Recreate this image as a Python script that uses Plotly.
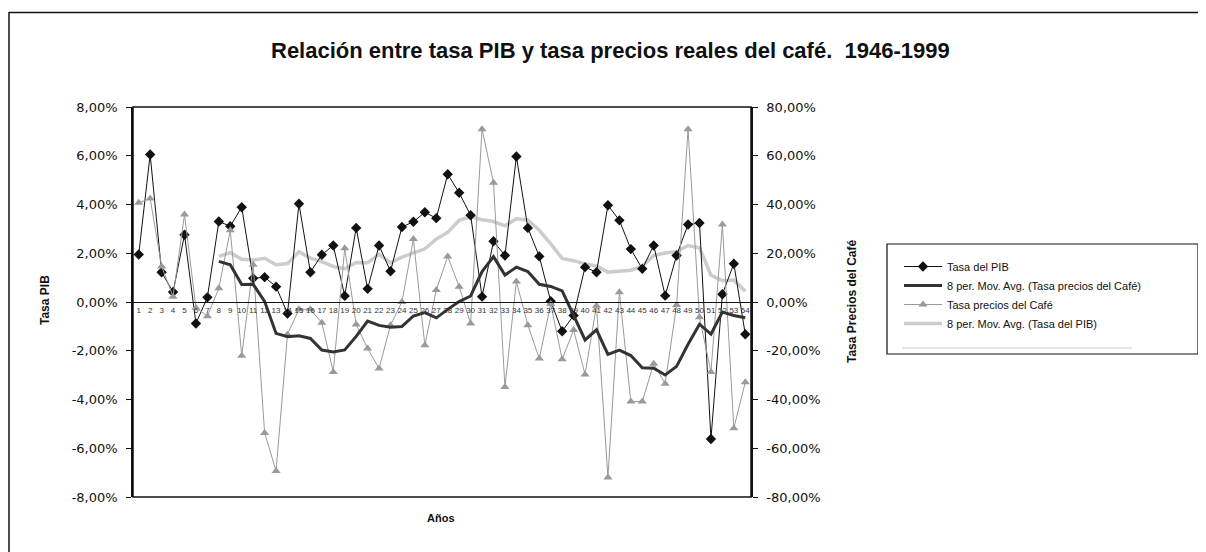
import plotly.graph_objects as go
import pandas as pd

# ---- data ----
years = list(range(1, 55))
year_labels = [str(v) for v in years]

tasa_pib = [1.95, 6.05, 1.22, 0.41, 2.76, -0.88, 0.19, 3.30, 3.11, 3.89,
            0.97, 1.02, 0.63, -0.47, 4.03, 1.22, 1.94, 2.32, 0.25, 3.04,
            0.54, 2.32, 1.26, 3.08, 3.29, 3.68, 3.44, 5.24, 4.48, 3.56,
            0.22, 2.49, 1.91, 5.97, 3.04, 1.87, 0.03, -1.20, -0.55, 1.43,
            1.22, 3.97, 3.35, 2.17, 1.36, 2.32, 0.26, 1.91, 3.18, 3.24,
            -5.62, 0.32, 1.57, -1.32]

tasa_cafe = [40.7, 42.5, 14.6, 2.2, 35.9, -2.4, -5.8, 5.6, 29.4, -22.1,
             15.3, -53.7, -69.3, -13.3, -3.0, -3.0, -8.5, -28.7, 22.1, -9.2,
             -19.1, -27.3, -9.5, 0.0, 25.8, -17.7, 4.9, 18.7, 6.3, -8.8,
             70.9, 48.9, -34.9, 8.4, -9.5, -23.2, -0.8, -23.5, -11.5, -29.7,
             -1.5, -72.0, 4.0, -40.8, -40.8, -25.3, -33.5, -1.2, 70.9, -6.3,
             -28.7, 31.8, -51.8, -32.9]

left_tickvals = [-8, -6, -4, -2, 0, 2, 4, 6, 8]
left_ticktext = ["-8,00%", "-6,00%", "-4,00%", "-2,00%", "0,00%", "2,00%", "4,00%", "6,00%", "8,00%"]
right_tickvals = [-80, -60, -40, -20, 0, 20, 40, 60, 80]
right_ticktext = ["-80,00%", "-60,00%", "-40,00%", "-20,00%", "0,00%", "20,00%", "40,00%", "60,00%", "80,00%"]

# 8-period moving averages (trendlines of the series)
ma_pib = pd.Series(tasa_pib).rolling(8).mean().tolist()
ma_cafe = pd.Series(tasa_cafe).rolling(8).mean().tolist()

# ---- geometry (page pixels; the page body has an 8px margin) ----
OFF = 8
W, H = 1206 - OFF, 552 - OFF
L, R, T, B = 133, 751, 107, 497   # plot area in page pixels
def px(x):
    return (x - L) / (R - L)
def py(y):
    return (B - y) / (B - T)

FONT = "Liberation Sans, Arial, sans-serif"

fig = go.Figure()

fig.add_trace(go.Scatter(
    x=years, y=ma_pib, name="8 per. Mov. Avg. (Tasa del PIB)", mode="lines",
    line=dict(color="#cccccc", width=3.5), yaxis="y", legendrank=4))
fig.add_trace(go.Scatter(
    x=years, y=tasa_pib, name="Tasa del PIB", mode="lines+markers",
    line=dict(color="#111111", width=1),
    marker=dict(symbol="diamond", size=8, color="#111111"),
    yaxis="y", legendrank=1))
fig.add_trace(go.Scatter(
    x=years, y=tasa_cafe, name="Tasa precios del Café", mode="lines+markers",
    line=dict(color="#9a9a9a", width=1),
    marker=dict(symbol="triangle-up", size=8, color="#9a9a9a"),
    yaxis="y2", legendrank=3))
fig.add_trace(go.Scatter(
    x=years, y=ma_cafe, name="8 per. Mov. Avg. (Tasa precios del Café)", mode="lines",
    line=dict(color="#333333", width=3), yaxis="y2", legendrank=2))

axis_common = dict(showgrid=False, zeroline=False)

fig.update_layout(
    width=W, height=H,
    margin=dict(l=L - OFF, r=W - (R - OFF), t=T - OFF, b=H - (B - OFF), pad=0, autoexpand=False),
    paper_bgcolor="white", plot_bgcolor="white",
    font=dict(family=FONT, color="#111111"),
    showlegend=True,
    legend=dict(
        x=px(899), y=py(252), xanchor="left", yanchor="top",
        bgcolor="rgba(0,0,0,0)", borderwidth=0,
        font=dict(family=FONT, size=11, color="#111111"),
        itemwidth=38, traceorder="normal",
    ),
    xaxis=dict(
        **axis_common, range=[0.5, 54.5], anchor="free", position=0.5,
        tickmode="array", tickvals=years, ticktext=year_labels, tickangle=0,
        ticks="", showline=True, linecolor="#111111", linewidth=1.2,
        tickfont=dict(family=FONT, size=8, color="#333333"),
        fixedrange=True,
    ),
    xaxis2=dict(
        **axis_common, range=[0.5, 54.5], overlaying="x", anchor="free", position=0.5,
        tickmode="linear", tick0=0.5, dtick=1, ticks="outside", ticklen=3,
        tickcolor="#111111", tickwidth=1, showticklabels=False, showline=False,
    ),
    xaxis3=dict(
        **axis_common, range=[0.5, 54.5], overlaying="x", anchor="free", position=0.5,
        tickmode="linear", tick0=0.5, dtick=1, ticks="inside", ticklen=3,
        tickcolor="#111111", tickwidth=1, showticklabels=False, showline=False,
    ),
    yaxis=dict(
        **axis_common, range=[-8, 8], tickmode="array",
        tickvals=left_tickvals, ticktext=left_ticktext,
        ticks="outside", ticklen=5, tickcolor="#111111", tickwidth=1,
        ticklabelstandoff=6,
        showline=True, linecolor="#111111", linewidth=1.5,
        tickfont=dict(family="DejaVu Sans, sans-serif", size=13, color="#111111"),
    ),
    yaxis3=dict(
        **axis_common, range=[-8, 8], overlaying="y", anchor="x", side="left",
        tickmode="array", tickvals=left_tickvals, ticks="inside", ticklen=5,
        tickcolor="#111111", tickwidth=1, showticklabels=False, showline=False,
    ),
    yaxis2=dict(
        **axis_common, range=[-80, 80], overlaying="y", anchor="x", side="right",
        tickmode="array", tickvals=right_tickvals, ticktext=right_ticktext,
        ticks="outside", ticklen=5, tickcolor="#111111", tickwidth=1,
        ticklabelstandoff=6,
        showline=True, linecolor="#111111", linewidth=1.5,
        tickfont=dict(family="DejaVu Sans, sans-serif", size=13, color="#111111"),
    ),
    yaxis4=dict(
        **axis_common, range=[-80, 80], overlaying="y", anchor="x", side="right",
        tickmode="array", tickvals=right_tickvals, ticks="inside", ticklen=5,
        tickcolor="#111111", tickwidth=1, showticklabels=False, showline=False,
    ),
)

shapes = [
    # outer chart border (top and left visible)
    dict(type="line", xref="paper", yref="paper", x0=px(9), x1=px(1230), y0=py(12.5), y1=py(12.5),
         line=dict(color="#111111", width=1.5)),
    dict(type="line", xref="paper", yref="paper", x0=px(9), x1=px(9), y0=py(12), y1=py(580),
         line=dict(color="#111111", width=1.5)),
    # plot area border
    dict(type="rect", xref="paper", yref="paper", x0=0, x1=1, y0=0, y1=1,
         line=dict(color="#111111", width=1.5), layer="above"),
    # legend box
    dict(type="rect", xref="paper", yref="paper", x0=px(887), x1=px(1198), y0=py(354), y1=py(244),
         line=dict(color="#111111", width=1.2)),
    dict(type="line", xref="paper", yref="paper", x0=px(902), x1=px(1132), y0=py(348), y1=py(348),
         line=dict(color="#cccccc", width=1)),
]
fig.update_layout(shapes=shapes)

annotations = [
    dict(text="<b>Relación entre tasa PIB y tasa precios reales del café.\u00a0 1946-1999</b>",
         x=px(610), y=py(50), xref="paper", yref="paper", showarrow=False,
         xanchor="center", yanchor="middle",
         font=dict(family=FONT, size=22, color="#111111")),
    dict(text="<b>Tasa PIB</b>", x=px(45), y=py(300), xref="paper", yref="paper",
         showarrow=False, textangle=-90, xanchor="center", yanchor="middle",
         font=dict(family=FONT, size=12, color="#111111")),
    dict(text="<b>Tasa Precios del Café</b>", x=px(852), y=py(302), xref="paper", yref="paper",
         showarrow=False, textangle=-90, xanchor="center", yanchor="middle",
         font=dict(family=FONT, size=12, color="#111111")),
    dict(text="<b>Años</b>", x=px(441), y=py(518), xref="paper", yref="paper",
         showarrow=False, xanchor="center", yanchor="middle",
         font=dict(family=FONT, size=11, color="#111111")),
]
fig.update_layout(annotations=annotations)

fig.write_html("out.html")
